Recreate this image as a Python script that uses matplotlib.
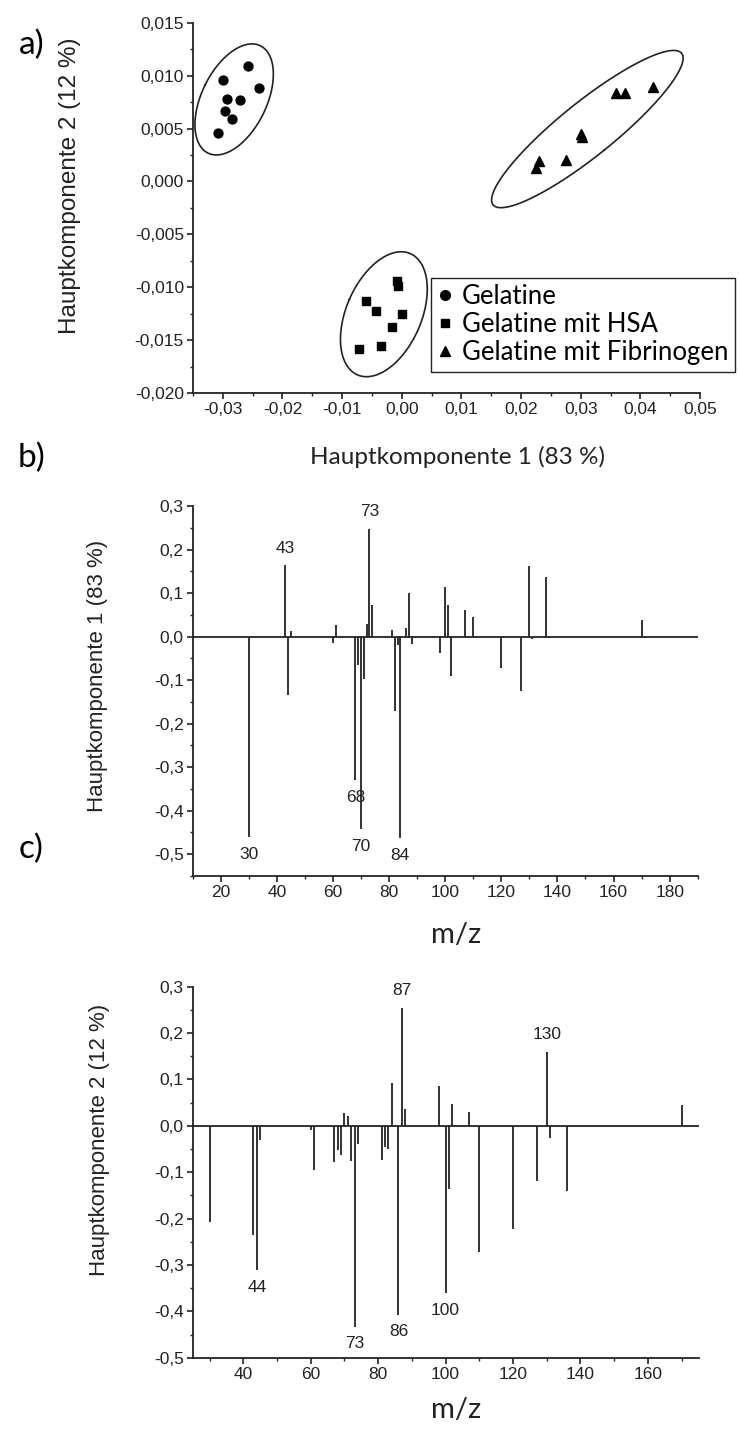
import numpy as np
import matplotlib
matplotlib.use("Agg")
import matplotlib.pyplot as plt
from matplotlib.ticker import MultipleLocator, FuncFormatter
from matplotlib.lines import Line2D

# ---------------- data ----------------
# Panel a: PCA scores
gel_x = [-0.0308, -0.0299, -0.0293, -0.0296, -0.0284, -0.0272, -0.0257, -0.0239]
gel_y = [0.00453, 0.00959, 0.00783, 0.00664, 0.00592, 0.00768, 0.01092, 0.00887]
hsa_x = [-0.0008, -0.0006, -0.0060, -0.0044, 0.0001, -0.0016, -0.0035, -0.0072]
hsa_y = [-0.00938, -0.00986, -0.01127, -0.01227, -0.01249, -0.01372, -0.01557, -0.01588]
fib_x = [0.0225, 0.0230, 0.0275, 0.0300, 0.0302, 0.0360, 0.0375, 0.0422]
fib_y = [0.00122, 0.00195, 0.00201, 0.00452, 0.00421, 0.00838, 0.00838, 0.00891]
legend_labels = ["Gelatine", "Gelatine mit HSA", "Gelatine mit Fibrinogen"]

# Panel b: loadings PC1
pc1_mz = [30, 43, 44, 45, 60, 61, 68, 69, 70, 71, 72, 73, 74, 81, 82, 83, 84,
          86, 87, 88, 98, 100, 101, 102, 107, 110, 120, 127, 130, 131, 136, 170]
pc1_val = [-0.46, 0.165, -0.135, 0.012, -0.014, 0.026, -0.33, -0.065, -0.442,
           -0.098, 0.028, 0.248, 0.073, 0.015, -0.17, -0.02, -0.463, 0.02, 0.10,
           -0.016, -0.037, 0.115, 0.072, -0.091, 0.061, 0.046, -0.073, -0.124,
           0.163, -0.006, 0.138, 0.039]
pc1_peaks = [30, 43, 68, 70, 73, 84]

# Panel c: loadings PC2
pc2_mz = [30, 43, 44, 45, 60, 61, 67, 68, 69, 70, 71, 72, 73, 74, 81, 82, 83,
          84, 86, 87, 88, 98, 100, 101, 102, 107, 110, 120, 127, 130, 131, 136, 170]
pc2_val = [-0.208, -0.236, -0.311, -0.031, -0.008, -0.096, -0.078, -0.052,
           -0.063, 0.028, 0.022, -0.075, -0.433, -0.04, -0.073, -0.045, -0.051,
           0.092, -0.407, 0.255, 0.036, 0.085, -0.36, -0.137, 0.046, 0.029,
           -0.272, -0.223, -0.118, 0.160, -0.027, -0.14, 0.045]
pc2_peaks = [44, 73, 86, 87, 100, 130]

# ---------------- style ----------------
W, H = 739, 1434
C = "#222222"
TICKFONT = "Liberation Sans"
LABFONT = "Lato"

fig = plt.figure(figsize=(W / 100, H / 100), dpi=100)


def rect(x0, y0, x1, y1):
    return [x0 / W, 1 - y1 / H, (x1 - x0) / W, (y1 - y0) / H]


def comma(fmt):
    def f(v, p):
        if abs(v) < 1e-12:
            v = 0.0
        return format(v, fmt).replace(".", ",")
    return FuncFormatter(f)


def style_axes(ax, tsize=12.5):
    for s in ["top", "right"]:
        ax.spines[s].set_visible(False)
    for s in ["left", "bottom"]:
        ax.spines[s].set_linewidth(1.3)
        ax.spines[s].set_color(C)
    ax.tick_params(which="major", direction="out", length=4.5, width=1.2,
                   color=C, labelsize=tsize, labelcolor=C, pad=2)
    ax.tick_params(which="minor", direction="out", length=2.5, width=1.0, color=C)
    for lab in ax.get_xticklabels() + ax.get_yticklabels():
        lab.set_fontfamily(TICKFONT)


# ---------------- panel a ----------------
axa = fig.add_axes(rect(193, 22.7, 700, 393))
axa.set_xlim(-0.035, 0.05)
axa.set_ylim(-0.020, 0.015)
axa.xaxis.set_major_locator(MultipleLocator(0.01))
axa.xaxis.set_minor_locator(MultipleLocator(0.005))
axa.yaxis.set_major_locator(MultipleLocator(0.005))
axa.yaxis.set_minor_locator(MultipleLocator(0.0025))
axa.xaxis.set_major_formatter(comma(".2f"))
axa.yaxis.set_major_formatter(comma(".3f"))
axa.plot(gel_x, gel_y, "o", color="black", ms=6.4, ls="none")
axa.plot(hsa_x, hsa_y, "s", color="black", ms=5.2, ls="none")
axa.plot(fib_x, fib_y, "^", color="black", ms=6.6, ls="none")
style_axes(axa, 12.5)


def draw_ellipse(ax, xs, ys, scale=1.4, pad=6.0):
    pts = ax.transData.transform(np.column_stack([xs, ys]))
    c = pts.mean(axis=0)
    d = pts - c
    w, v = np.linalg.eigh(np.cov(d.T))
    proj = d @ v
    semi = np.abs(proj).max(axis=0) * scale + pad
    t = np.linspace(0, 2 * np.pi, 300)
    circ = np.column_stack([semi[0] * np.cos(t), semi[1] * np.sin(t)])
    poly = circ @ v.T + c
    dd = ax.transData.inverted().transform(poly)
    ax.plot(dd[:, 0], dd[:, 1], color=C, lw=1.2, clip_on=False)


draw_ellipse(axa, gel_x, gel_y, pad=7)
draw_ellipse(axa, hsa_x, hsa_y, pad=7)
draw_ellipse(axa, fib_x, fib_y, pad=12)

handles = [Line2D([], [], marker=m, color="black", ls="none", ms=s)
           for m, s in zip(["o", "s", "^"], [7.0, 6.2, 7.2])]
leg = fig.legend(handles, legend_labels, loc="upper left",
                 bbox_to_anchor=(431 / W, 1 - 277.7 / H), borderaxespad=0,
                 frameon=True, fancybox=False, edgecolor=C, framealpha=1,
                 handlelength=0.6, handletextpad=0.35, borderpad=0.25,
                 labelspacing=0.12, prop={"family": LABFONT, "size": 18.5})
leg.get_frame().set_linewidth(1.0)

fig.text(32 / W, 1 - 45 / H, "a)", fontsize=24, family=LABFONT, ha="center", va="center")
fig.text(458 / W, 1 - 457 / H, "Hauptkomponente 1 (83 %)", fontsize=17.5,
         family=LABFONT, ha="center", va="center", color=C)
fig.text(70 / W, 1 - 186 / H, "Hauptkomponente 2 (12 %)", fontsize=17.5,
         family=TICKFONT, ha="center", va="center", rotation=90, color=C)


# ---------------- bar (stick) panels ----------------
def stick_panel(ax, mz, val, peaks, xlim, ylim, xmajor):
    ax.vlines(mz, 0, val, color=C, lw=1.3)
    ax.axhline(0, color=C, lw=1.3)
    ax.set_xlim(*xlim)
    ax.set_ylim(*ylim)
    ax.xaxis.set_major_locator(MultipleLocator(20))
    ax.xaxis.set_minor_locator(MultipleLocator(10))
    ax.set_xticks(xmajor)
    ax.yaxis.set_major_locator(MultipleLocator(0.1))
    ax.yaxis.set_minor_locator(MultipleLocator(0.05))
    ax.set_yticks(np.arange(-0.5, 0.31, 0.1))
    ax.yaxis.set_major_formatter(comma(".1f"))
    ax.xaxis.set_major_formatter(FuncFormatter(lambda v, p: f"{v:.0f}"))
    style_axes(ax, 12.5)
    for p in peaks:
        v = val[mz.index(p)]
        off = 12 if v > 0 else -12.5
        ax.annotate(str(p), (p, v), xytext=(0, off), textcoords="offset points",
                    ha="center", va="center", fontsize=12.5, family=TICKFONT, color=C)


axb = fig.add_axes(rect(192.7, 506, 697.7, 876))
stick_panel(axb, pc1_mz, pc1_val, pc1_peaks, (10, 190), (-0.55, 0.3),
            list(range(20, 181, 20)))
fig.text(32 / W, 1 - 458 / H, "b)", fontsize=24, family=LABFONT, ha="center", va="center")
fig.text(98 / W, 1 - 676 / H, "Hauptkomponente 1 (83 %)", fontsize=16,
         family=TICKFONT, ha="center", va="center", rotation=90, color=C)
fig.text(456 / W, 1 - 935 / H, "m/z", fontsize=21, family=LABFONT,
         ha="center", va="center", color=C)

axc = fig.add_axes(rect(192.7, 986.7, 698.5, 1357.7))
stick_panel(axc, pc2_mz, pc2_val, pc2_peaks, (25, 175), (-0.5, 0.3),
            list(range(40, 161, 20)))
fig.text(31 / W, 1 - 849 / H, "c)", fontsize=24, family=LABFONT, ha="center", va="center")
fig.text(100 / W, 1 - 1140 / H, "Hauptkomponente 2 (12 %)", fontsize=16,
         family=TICKFONT, ha="center", va="center", rotation=90, color=C)
fig.text(456 / W, 1 - 1410 / H, "m/z", fontsize=21, family=LABFONT,
         ha="center", va="center", color=C)

fig.savefig("out.png", dpi=100)
